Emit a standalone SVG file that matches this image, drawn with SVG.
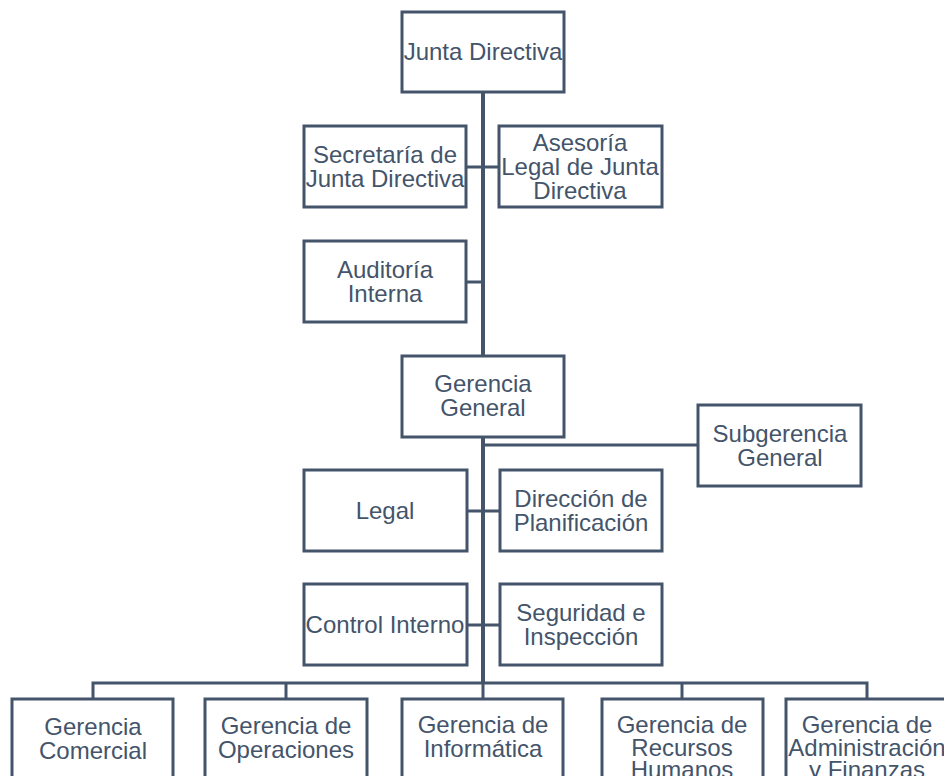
<svg xmlns="http://www.w3.org/2000/svg" width="944" height="776" viewBox="0 0 944 776">
<style>
.box{fill:#fff;stroke:#44546A;stroke-width:3}
.t{font-family:"Liberation Sans",Arial,sans-serif;font-size:24px;fill:#44546A;text-anchor:middle}
.ln{stroke:#44546A;stroke-width:3;fill:none}
.trunk{stroke:#44546A;stroke-width:4;fill:none}
</style>
<rect width="944" height="776" fill="#fff"/>
<g id="connectors">
<line class="trunk" x1="483" y1="92" x2="483" y2="356"/>
<line class="trunk" x1="483" y1="437" x2="483" y2="684"/>
<line class="ln" x1="466" y1="167" x2="499" y2="167"/>
<line class="ln" x1="466" y1="282" x2="483" y2="282"/>
<line class="ln" x1="483" y1="445" x2="698" y2="445"/>
<line class="ln" x1="467" y1="511" x2="500" y2="511"/>
<line class="ln" x1="467" y1="625" x2="500" y2="625"/>
<polyline class="ln" points="93,699 93,683 867,683 867,699"/>
<line class="ln" x1="286" y1="683" x2="286" y2="699"/>
<line class="ln" x1="483" y1="683" x2="483" y2="699"/>
<line class="ln" x1="682" y1="683" x2="682" y2="699"/>
</g>
<g id="junta"><rect class="box" x="402" y="12" width="162" height="80"/><text class="t" x="483" y="60">Junta Directiva</text></g>
<g id="secretaria"><rect class="box" x="304" y="126" width="162" height="81"/><text class="t" x="385" y="163">Secretaría de</text><text class="t" x="385" y="187">Junta Directiva</text></g>
<g id="asesoria"><rect class="box" x="499" y="126" width="163" height="81"/><text class="t" x="580" y="151">Asesoría</text><text class="t" x="580" y="175">Legal de Junta</text><text class="t" x="580" y="199">Directiva</text></g>
<g id="auditoria"><rect class="box" x="304" y="241" width="162" height="81"/><text class="t" x="385" y="278">Auditoría</text><text class="t" x="385" y="302">Interna</text></g>
<g id="gerencia-general"><rect class="box" x="402" y="356" width="162" height="81"/><text class="t" x="483" y="392">Gerencia</text><text class="t" x="483" y="416">General</text></g>
<g id="subgerencia"><rect class="box" x="698" y="405" width="163" height="81"/><text class="t" x="780" y="442">Subgerencia</text><text class="t" x="780" y="466">General</text></g>
<g id="legal"><rect class="box" x="304" y="470" width="163" height="81"/><text class="t" x="385" y="519">Legal</text></g>
<g id="direccion"><rect class="box" x="500" y="470" width="162" height="81"/><text class="t" x="581" y="507">Dirección de</text><text class="t" x="581" y="531">Planificación</text></g>
<g id="control"><rect class="box" x="304" y="584" width="163" height="81"/><text class="t" x="385" y="633">Control Interno</text></g>
<g id="seguridad"><rect class="box" x="500" y="584" width="162" height="81"/><text class="t" x="581" y="621">Seguridad e</text><text class="t" x="581" y="645">Inspección</text></g>
<g id="comercial"><rect class="box" x="12" y="699" width="161" height="90"/><text class="t" x="93" y="735">Gerencia</text><text class="t" x="93" y="759">Comercial</text></g>
<g id="operaciones"><rect class="box" x="205" y="699" width="162" height="90"/><text class="t" x="286" y="734">Gerencia de</text><text class="t" x="286" y="758">Operaciones</text></g>
<g id="informatica"><rect class="box" x="402" y="699" width="161" height="90"/><text class="t" x="483" y="733">Gerencia de</text><text class="t" x="483" y="757">Informática</text></g>
<g id="rrhh"><rect class="box" x="602" y="699" width="161" height="90"/><text class="t" x="682" y="733">Gerencia de</text><text class="t" x="682" y="756">Recursos</text><text class="t" x="682" y="778">Humanos</text></g>
<g id="administracion"><rect class="box" x="786" y="699" width="162" height="90"/><text class="t" x="867" y="733">Gerencia de</text><text class="t" x="867" y="756">Administración</text><text class="t" x="867" y="778">y Finanzas</text></g>
</svg>
